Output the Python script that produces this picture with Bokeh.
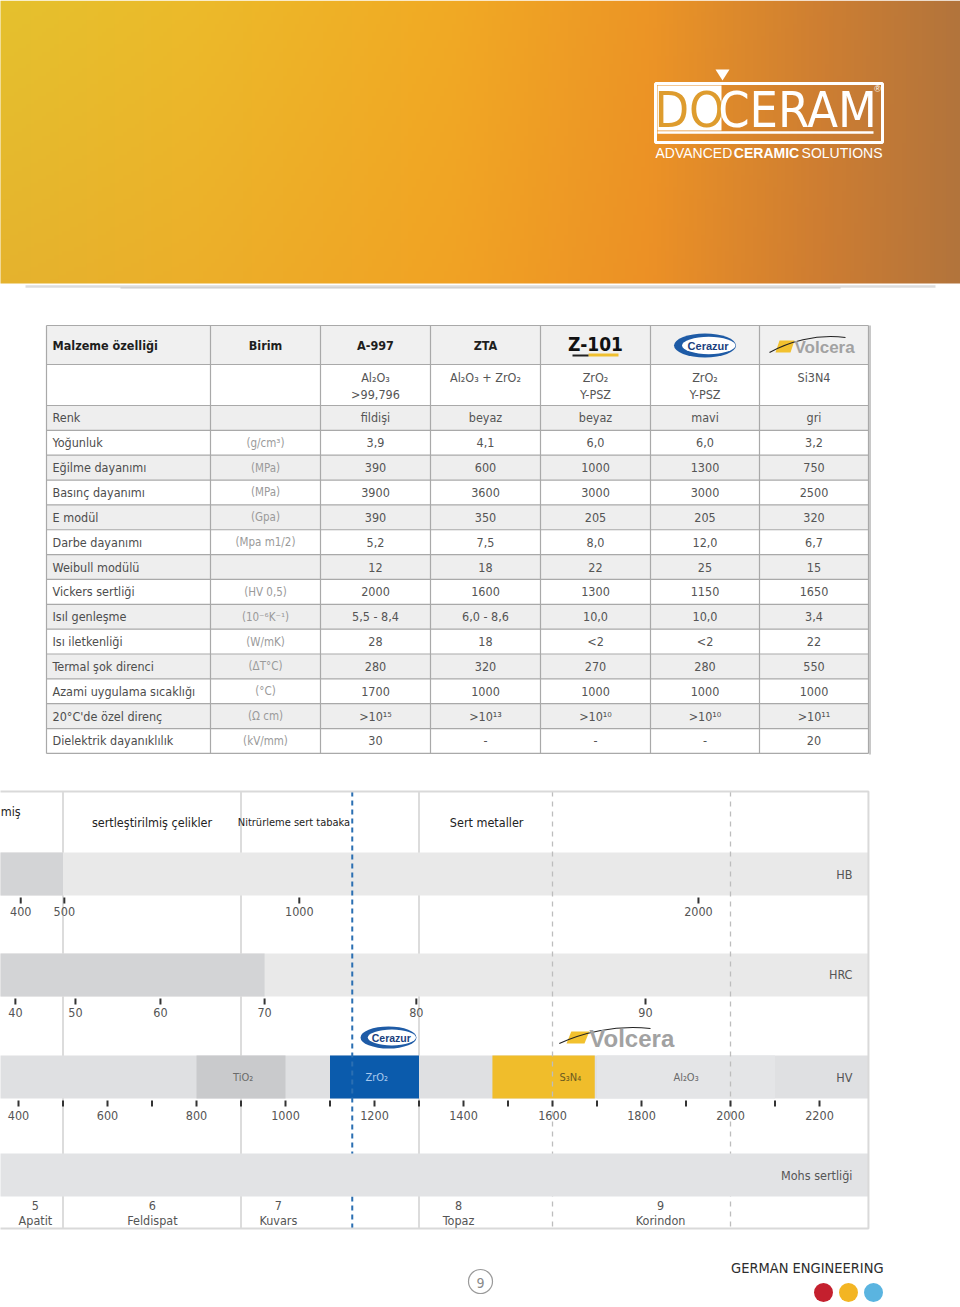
import numpy as np
from bokeh.plotting import figure
from bokeh.layouts import column
from bokeh.models import Range1d
from bokeh.core.properties import value
from bokeh.embed import file_html
from bokeh.resources import INLINE

# ======================= DATA =======================
header_labels = ["Malzeme özelliği", "Birim", "A-997", "ZTA"]
materials = ["A-997", "ZTA", "Z-101", "Cerazur", "Volcera"]
composition_line1 = ["Al₂O₃", "Al₂O₃ + ZrO₂", "ZrO₂", "ZrO₂", "Si3N4"]
composition_line2 = [">99,796", "", "Y-PSZ", "Y-PSZ", ""]
properties = ["Renk", "Yoğunluk", "Eğilme dayanımı", "Basınç dayanımı", "E modül",
              "Darbe dayanımı", "Weibull modülü", "Vickers sertliği", "Isıl genleşme",
              "Isı iletkenliği", "Termal şok direnci", "Azami uygulama sıcaklığı",
              "20°C'de özel direnç", "Dielektrik dayanıklılık"]
units = ["", "(g/cm³)", "(MPa)", "(MPa)", "(Gpa)", "(Mpa m1/2)", "", "(HV 0,5)",
         "(10⁻⁶K⁻¹)", "(W/mK)", "(ΔT°C)", "(°C)", "(Ω cm)", "(kV/mm)"]
a997 = ["fildişi", "3,9", "390", "3900", "390", "5,2", "12", "2000", "5,5 - 8,4", "28", "280", "1700", ">10¹⁵", "30"]
zta = ["beyaz", "4,1", "600", "3600", "350", "7,5", "18", "1600", "6,0 - 8,6", "18", "320", "1000", ">10¹³", "-"]
z101 = ["beyaz", "6,0", "1000", "3000", "205", "8,0", "22", "1300", "10,0", "<2", "270", "1000", ">10¹⁰", "-"]
cerazur = ["mavi", "6,0", "1300", "3000", "205", "12,0", "25", "1150", "10,0", "<2", "280", "1000", ">10¹⁰", "-"]
volcera = ["gri", "3,2", "750", "2500", "320", "6,7", "15", "1650", "3,4", "22", "550", "1000", ">10¹¹", "20"]

# hardness comparison (x axis in Vickers HV)
hv_ticks = [400, 500, 600, 700, 800, 900, 1000, 1100, 1200, 1300, 1400, 1500,
            1600, 1700, 1800, 1900, 2000, 2100, 2200]
hv_labels = ["400", "", "600", "", "800", "", "1000", "", "1200", "", "1400", "",
             "1600", "", "1800", "", "2000", "", "2200"]
hb_ticks = ["400", "500", "1000", "2000"]
hb_at_hv = [405, 503, 1031, 1928]
hrc_ticks = ["40", "50", "60", "70", "80", "90"]
hrc_at_hv = [393, 528, 719, 953, 1294, 1809]
mohs_values = ["5", "6", "7", "8", "9"]
mohs_minerals = ["Apatit", "Feldispat", "Kuvars", "Topaz", "Korindon"]
mohs_at_hv = [438, 701, 984, 1389, 1843]
steel_groups = ["miş", "sertleştirilmiş çelikler", "Nitrürleme sert tabaka", "Sert metaller"]
steel_group_hv = [360, 700, 1019, 1452]
group_borders_hv = [500, 900, 1300]
ref_dashed_hv = [1600, 2000]
cerazur_hv = 1150
blocks = ["TiO₂", "ZrO₂", "S₃N₄", "Al₂O₃"]
block_lo = [800, 1100, 1465, 1700]
block_hi = [1000, 1300, 1695, 2100]
block_label_hv = [905, 1205, 1640, 1900]
block_colors = ["#C9CACC", "#0B5BAC", "#F0BD2B", "#E4E5E7"]
block_text_colors = ["#6A6A6A", "#A9C9EE", "#6B5A20", "#6A6A6A"]
hb_dark_to_hv = 500
hrc_dark_to_hv = 953

NARROW = "'Liberation Sans Narrow', 'DejaVu Sans Condensed', 'Arial Narrow', 'Liberation Sans', sans-serif"
WIDE = "'Liberation Sans', Arial, sans-serif"


def mkfig(h, xr, yr):
    f = figure(width=960, height=h, x_range=xr, y_range=yr, x_axis_type=None, y_axis_type=None,
               output_backend="svg", toolbar_location=None, min_border=0)
    f.outline_line_color = None
    f.background_fill_color = "white"
    f.border_fill_color = "white"
    return f


def T(f, xs, ys, texts, size=12, color="#555555", align="center", baseline="middle",
      style="normal", font=NARROW):
    n = len(texts)
    if not isinstance(xs, (list, tuple)):
        xs = [xs] * n
    if not isinstance(ys, (list, tuple)):
        ys = [ys] * n
    f.text(x=list(xs), y=list(ys), text=list(texts), text_font=value(font),
           text_font_size=f"{size}px", text_color=color, text_align=align,
           text_baseline=baseline, text_font_style=style)


def cerazur_logo(f, cx, cy, w, h, fs):
    f.ellipse(x=[cx], y=[cy], width=[w], height=[h], fill_color="#1E5BA6", line_color=None)
    f.ellipse(x=[cx + w * 0.06], y=[cy], width=[w * 0.86], height=[h * 0.72],
              fill_color="white", line_color=None)
    T(f, [cx + w * 0.05], [cy], ["Cerazur"], fs, "#1B3F7E", style="bold", font=WIDE)


def volcera_logo(f, x0, cy, sx, fs):
    f.patch(x=[x0 + 4 * sx, x0 + 19 * sx, x0 + 15 * sx, x0],
            y=[cy - 6, cy - 6, cy + 6, cy + 6], fill_color="#F2C12E", line_color=None)
    f.bezier(x0=[x0 - 6 * sx], y0=[cy + 6], x1=[x0 + 70 * sx], y1=[cy - 9],
             cx0=[x0 + 12 * sx], cy0=[cy - 4], cx1=[x0 + 40 * sx], cy1=[cy - 13],
             line_color="#222222", line_width=1.2)
    T(f, [x0 + 19 * sx], [cy + 1], ["Volcera"], fs, "#A2A2A2", align="left", style="bold", font=WIDE)


# ======================= TOP: header + table =======================
p1 = mkfig(778, Range1d(0, 960), Range1d(778, 0))

# orange gradient banner
ny, nx = 71, 240
gx = np.linspace(0, 960, nx)
gy = np.linspace(0, 283, ny)
GX, GY = np.meshgrid(gx, gy)
kx = [0, 200, 450, 650, 820, 960]
R = np.interp(GX, kx, [229, 236, 241, 236, 206, 178])
G = np.interp(GX, kx, [193, 186, 170, 149, 127, 116]) - 14 * (GY / 283) * (1 - GX / 960)
B = np.interp(GX, kx, [46, 42, 36, 38, 50, 60])
img = np.empty((ny, nx), dtype=np.uint32)
view = img.view(dtype=np.uint8).reshape((ny, nx, 4))
view[..., 0] = R.astype(np.uint8)
view[..., 1] = G.astype(np.uint8)
view[..., 2] = B.astype(np.uint8)
view[..., 3] = 255
p1.image_rgba(image=[img], x=-2, y=0, dw=964, dh=283)

# shadow under banner
p1.line(x=[25, 935], y=[286, 286], line_color="#9A9A9A", line_width=2.5, line_alpha=0.35)
p1.line(x=[120, 840], y=[287.5, 287.5], line_color="#8A8A8A", line_width=1.5, line_alpha=0.3)

# DOCERAM logo
p1.quad(left=[657], right=[721], top=[85], bottom=[130], fill_color="white", line_color=None)
p1.quad(left=[655], right=[882], top=[83], bottom=[142], fill_color=None, line_color="white", line_width=3)
p1.line(x=[657, 873], y=[132, 132], line_color="white", line_width=2.5)
p1.patch(x=[715, 729, 722], y=[69, 69, 80], fill_color="white", line_color=None)
T(p1, [689], [109], ["DO"], 50, "#DE9C2E")
T(p1, [797], [109], ["CERAM"], 50, "white")
T(p1, [877], [88], ["®"], 9, "white", font=WIDE)
T(p1, [655], [152], ["ADVANCED"], 14, "white", align="left", font=WIDE)
T(p1, [766], [152], ["CERAMIC"], 14, "white", style="bold", font=WIDE)
T(p1, [882], [152], ["SOLUTIONS"], 14, "white", align="right", font=WIDE)

# table geometry
col_x = [46, 210, 320, 430, 540, 650, 759, 868]
col_c = [(a + b) / 2 for a, b in zip(col_x[:-1], col_x[1:])]
head_top, head_bot, comp_bot, row_h = 325, 364, 405, 24.85
n = len(properties)
row_top = [comp_bot + i * row_h for i in range(n)]
row_mid = [t + row_h / 2 for t in row_top]
table_bot = comp_bot + n * row_h

p1.quad(left=[col_x[0]], right=[col_x[-1]], top=[head_top], bottom=[head_bot],
        fill_color="#F0F0F0", line_color=None)
gray_rows = [i for i in range(n) if i % 2 == 0]
p1.quad(left=[col_x[0]] * len(gray_rows), right=[col_x[-1]] * len(gray_rows),
        top=[row_top[i] for i in gray_rows], bottom=[row_top[i] + row_h for i in gray_rows],
        fill_color="#EEEEEE", line_color=None)

hy = [head_top, head_bot, comp_bot] + [t + row_h for t in row_top]
p1.segment(x0=[col_x[0]] * len(hy), x1=[col_x[-1]] * len(hy), y0=hy, y1=hy,
           line_color="#A9A9A9", line_width=1.2)
p1.segment(x0=col_x, x1=col_x, y0=[head_top] * len(col_x), y1=[table_bot] * len(col_x),
           line_color="#A9A9A9", line_width=1.2)
p1.segment(x0=[col_x[-1] + 1.5], x1=[col_x[-1] + 1.5], y0=[head_top], y1=[table_bot + 1],
           line_color="#C8C8C8", line_width=2)

# header row
T(p1, [52], [345], [header_labels[0]], 12.5, "#1E1E1E", align="left", style="bold")
T(p1, col_c[1:4], [345] * 3, header_labels[1:], 12.5, "#1E1E1E", style="bold")

# header logos: Z-101, Cerazur, Volcera
T(p1, [595], [343], ["Z-101"], 19, "#111111", style="bold", font=NARROW)
p1.quad(left=[588], right=[618], top=[353], bottom=[356], fill_color="#F0C030", line_color=None)
p1.quad(left=[572], right=[588], top=[354], bottom=[356], fill_color="#222222", line_color=None)
cerazur_logo(p1, col_c[5], 345, 62, 24, 11)
volcera_logo(p1, 775, 346, 1.0, 17)

# composition row
T(p1, col_c[2:], [377] * 5, composition_line1, 12.5, "#555555")
T(p1, col_c[2:], [394] * 5, composition_line2, 12.5, "#555555")

# data rows
T(p1, [52] * n, row_mid, properties, 12.5, "#4D4D4D", align="left")
T(p1, [col_c[1]] * n, row_mid, units, 11.5, "#9A9A9A")
for j, vals in enumerate([a997, zta, z101, cerazur, volcera]):
    T(p1, [col_c[2 + j]] * n, row_mid, vals, 12.5, "#555555")

# ======================= MIDDLE: hardness comparison =======================
HV_PER_PX = 1 / 0.445
hv_left = (0 + 160) * HV_PER_PX
hv_right = (960 + 160) * HV_PER_PX
p2 = mkfig(462, Range1d(hv_left, hv_right), Range1d(1240, 778))
HV_L, HV_R = 300, 2310  # frame of the scale

y_top, y_bot = 791, 1228
# solid group borders (under bands)
p2.segment(x0=group_borders_hv, x1=group_borders_hv, y0=[y_top] * 3, y1=[y_bot] * 3,
           line_color="#DCDCDC", line_width=2)

# HB band
p2.quad(left=[HV_L], right=[HV_R], top=[852], bottom=[895], fill_color="#E9E9E9", line_color=None)
p2.quad(left=[HV_L], right=[hb_dark_to_hv], top=[852], bottom=[895], fill_color="#D3D4D6", line_color=None)
# HRC band
p2.quad(left=[HV_L], right=[HV_R], top=[953], bottom=[996], fill_color="#E9E9E9", line_color=None)
p2.quad(left=[HV_L], right=[hrc_dark_to_hv], top=[953], bottom=[996], fill_color="#D3D4D6", line_color=None)
# HV band + material blocks
p2.quad(left=[HV_L], right=[HV_R], top=[1055], bottom=[1098], fill_color="#DFE0E2", line_color=None)
p2.quad(left=block_lo, right=block_hi, top=[1055] * 4, bottom=[1098] * 4,
        fill_color=block_colors, line_color=None)

# dashed reference lines
p2.segment(x0=ref_dashed_hv, x1=ref_dashed_hv, y0=[y_top] * 2, y1=[y_bot] * 2,
           line_color="#BDBDBD", line_width=1.3, line_dash="5 5")
p2.segment(x0=[cerazur_hv], x1=[cerazur_hv], y0=[y_top], y1=[y_bot],
           line_color="#2B6FB2", line_width=2, line_dash="5 4")

# Mohs band
p2.quad(left=[HV_L], right=[HV_R], top=[1153], bottom=[1196], fill_color="#E2E3E5", line_color=None)

# frame
p2.line(x=[HV_L, HV_R, HV_R, HV_L], y=[y_top, y_top, y_bot, y_bot], line_color="#D9D9D9", line_width=2)

# group labels
T(p2, [steel_group_hv[0]], [811], [steel_groups[0]], 12.5, "#222222", align="left")
T(p2, steel_group_hv[1:2], [822], steel_groups[1:2], 12.5, "#222222")
T(p2, steel_group_hv[2:3], [822], steel_groups[2:3], 11, "#222222")
T(p2, steel_group_hv[3:], [822], steel_groups[3:], 12.5, "#222222")

# band titles
right_lab = HV_R - 16 * HV_PER_PX
T(p2, [right_lab], [874], ["HB"], 12.5, "#555555", align="right")
T(p2, [right_lab], [974], ["HRC"], 12.5, "#555555", align="right")
T(p2, [right_lab], [1077], ["HV"], 12.5, "#555555", align="right")
T(p2, [right_lab], [1175], ["Mohs sertliği"], 12.5, "#555555", align="right")

# HB scale
p2.segment(x0=hb_at_hv, x1=hb_at_hv, y0=[897] * 4, y1=[903] * 4, line_color="#333333", line_width=2)
T(p2, hb_at_hv, [911] * 4, hb_ticks, 12.5, "#555555")
# HRC scale
p2.segment(x0=hrc_at_hv, x1=hrc_at_hv, y0=[998] * 6, y1=[1004] * 6, line_color="#333333", line_width=2)
T(p2, hrc_at_hv, [1012] * 6, hrc_ticks, 12.5, "#555555")
# HV scale
p2.segment(x0=hv_ticks, x1=hv_ticks, y0=[1100] * len(hv_ticks), y1=[1106] * len(hv_ticks),
           line_color="#333333", line_width=2)
T(p2, hv_ticks, [1115] * len(hv_ticks), hv_labels, 12.5, "#555555")
# block labels
for name, xh, col in zip(blocks, block_label_hv, block_text_colors):
    T(p2, [xh], [1077], [name], 11, col)

# Mohs scale
T(p2, mohs_at_hv, [1205] * 5, mohs_values, 12.5, "#555555")
T(p2, mohs_at_hv, [1220] * 5, mohs_minerals, 12.5, "#555555")

# logos above the HV band
cerazur_logo(p2, (388 + 160) * HV_PER_PX, 1037, 56 * HV_PER_PX, 22, 10.5)
volcera_logo(p2, (566 + 160) * HV_PER_PX, 1037, HV_PER_PX * 1.2, 24)

# ======================= BOTTOM: footer =======================
p3 = mkfig(67, Range1d(0, 960), Range1d(1307, 1240))
p3.circle(x=[480], y=[1281], radius=12, fill_color="white", line_color="#9A9A9A", line_width=1.2)
T(p3, [480], [1282], ["9"], 14, "#8A8A8A")
T(p3, [883], [1267], ["GERMAN ENGINEERING"], 14.5, "#2D2D2D", align="right")
p3.circle(x=[823, 848, 873], y=[1292, 1292, 1292], radius=9.5,
          fill_color=["#C4202E", "#F3B523", "#5AB4E0"], line_color=None)

layout = column(p1, p2, p3, spacing=0)
open("out.html", "w").write(file_html(layout, INLINE))
